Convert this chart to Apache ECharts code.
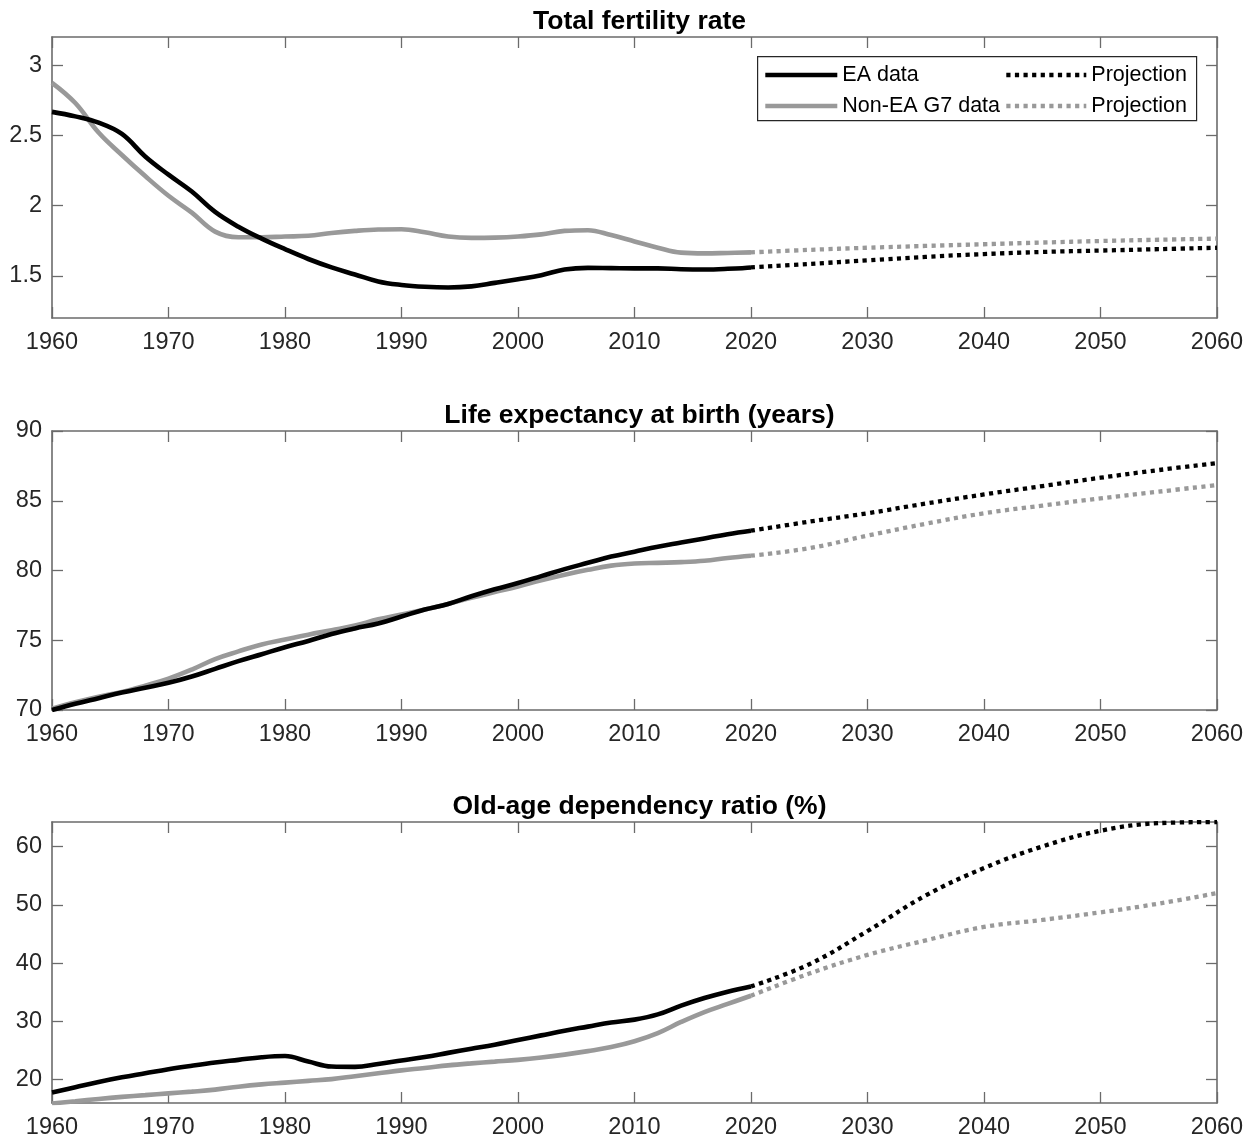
<!DOCTYPE html>
<html>
<head>
<meta charset="utf-8">
<script src="https://cdn.jsdelivr.net/npm/echarts@6/dist/echarts.min.js"></script>
<style>
  html, body { margin: 0; padding: 0; background: #fff; }
  #chart { width: 1256px; height: 1141px; }
</style>
</head>
<body>
<div id="chart"></div>
<script>
// Observed years (every two years) and projection years (every five years)
const histYears = [1960, 1962, 1964, 1966, 1968, 1970, 1972, 1974, 1976, 1978,
                   1980, 1982, 1984, 1986, 1988, 1990, 1992, 1994, 1996, 1998,
                   2000, 2002, 2004, 2006, 2008, 2010, 2012, 2014, 2016, 2018, 2020];
const projYears = [2020, 2025, 2030, 2035, 2040, 2045, 2050, 2055, 2060];

// Total fertility rate
const tfrEA = [2.667, 2.635, 2.59, 2.51, 2.35, 2.22, 2.10, 1.955, 1.85, 1.765,
               1.69, 1.62, 1.56, 1.51, 1.46, 1.435, 1.422, 1.417, 1.425, 1.45,
               1.476, 1.505, 1.545, 1.557, 1.555, 1.553, 1.553, 1.547, 1.545, 1.55, 1.56];
const tfrG7 = [2.874, 2.73, 2.52, 2.36, 2.21, 2.07, 1.95, 1.815, 1.775, 1.775,
               1.78, 1.785, 1.805, 1.82, 1.83, 1.832, 1.81, 1.78, 1.77, 1.772,
               1.78, 1.795, 1.82, 1.825, 1.79, 1.745, 1.70, 1.665, 1.66, 1.663, 1.667];
const tfrEAProj = [1.56, 1.585, 1.61, 1.635, 1.655, 1.67, 1.68, 1.69, 1.70];
const tfrG7Proj = [1.667, 1.685, 1.70, 1.713, 1.725, 1.737, 1.748, 1.757, 1.765];

// Life expectancy at birth (years)
const leEA = [70.0, 70.45, 70.85, 71.25, 71.6, 71.95, 72.4, 72.95, 73.5, 74.0,
              74.5, 74.95, 75.45, 75.85, 76.2, 76.7, 77.2, 77.6, 78.15, 78.65,
              79.1, 79.6, 80.1, 80.55, 81.0, 81.35, 81.7, 82.0, 82.3, 82.6, 82.85];
const leG7 = [70.1, 70.55, 70.95, 71.3, 71.75, 72.25, 72.9, 73.65, 74.2, 74.7,
              75.05, 75.4, 75.72, 76.05, 76.5, 76.85, 77.2, 77.6, 78.05, 78.45,
              78.85, 79.3, 79.7, 80.05, 80.35, 80.5, 80.55, 80.6, 80.7, 80.9, 81.06];
const leEAProj = [82.85, 83.5, 84.1, 84.8, 85.45, 86.05, 86.65, 87.2, 87.7];
const leG7Proj = [81.06, 81.6, 82.5, 83.35, 84.1, 84.65, 85.17, 85.65, 86.13];

// Old-age dependency ratio (%)
const oadEA = [17.8, 18.7, 19.6, 20.4, 21.1, 21.8, 22.4, 22.95, 23.4, 23.85,
               24.05, 23.1, 22.25, 22.2, 22.7, 23.3, 23.9, 24.6, 25.3, 26.0,
               26.8, 27.6, 28.4, 29.1, 29.8, 30.3, 31.2, 32.7, 34.0, 35.1, 36.0];
const oadG7 = [15.9, 16.3, 16.7, 17.05, 17.35, 17.65, 17.95, 18.3, 18.8, 19.2,
               19.5, 19.8, 20.1, 20.6, 21.1, 21.6, 22.0, 22.45, 22.8, 23.1,
               23.4, 23.8, 24.3, 24.9, 25.6, 26.6, 28.0, 29.9, 31.6, 33.0, 34.4];
const oadEAProj = [36.0, 39.8, 45.5, 51.6, 56.3, 60.0, 62.7, 64.0, 64.2];
const oadG7Proj = [34.4, 38.2, 41.4, 43.9, 46.2, 47.4, 48.7, 50.2, 52.0];

// Panel titles and y-axis tick values
const panelTitles = ['Total fertility rate', 'Life expectancy at birth (years)', 'Old-age dependency ratio (%)'];
const tfrTicks = [1.5, 2, 2.5, 3];
const leTicks = [70, 75, 80, 85, 90];
const oadTicks = [20, 30, 40, 50, 60];
const xTicks = [1960, 1970, 1980, 1990, 2000, 2010, 2020, 2030, 2040, 2050, 2060];

const seriesNames = ['EA data', 'Non-EA G7 data', 'EA projection', 'Non-EA G7 projection'];

const FONT = "'Liberation Sans', Arial, Helvetica, sans-serif";
const TEXT = '#262626';
const FRAME = '#6b6b6b';
const BLACK = '#000000';
const GREY = '#999999';

const pair = (xs, ys) => xs.map((x, i) => [x, ys[i]]);

const panels = [
  { top: 37, height: 281, yMin: 1.2, yMax: 3.2, ticks: tfrTicks,
    ea: tfrEA, g7: tfrG7, eaP: tfrEAProj, g7P: tfrG7Proj },
  { top: 431, height: 279, yMin: 70, yMax: 90, ticks: leTicks,
    ea: leEA, g7: leG7, eaP: leEAProj, g7P: leG7Proj },
  { top: 822, height: 281, yMin: 16, yMax: 64.2, ticks: oadTicks,
    ea: oadEA, g7: oadG7, eaP: oadEAProj, g7P: oadG7Proj }
];

const grid = [], xAxis = [], yAxis = [], series = [], title = [];

panels.forEach((p, i) => {
  grid.push({ left: 52, right: 39, top: p.top, height: p.height, containLabel: false });

  title.push({
    text: panelTitles[i],
    left: 634.5, top: p.top - 34, textAlign: 'center',
    textStyle: { fontFamily: FONT, fontWeight: 'bold', fontSize: 26.5, color: '#000' }
  });

  const tickCommon = { show: true, inside: true, length: 11, lineStyle: { color: FRAME, width: 1.3 } };
  const lineCommon = { show: true, onZero: false, lineStyle: { color: FRAME, width: 1.6 } };

  // bottom x axis with labels
  xAxis.push({
    type: 'value', gridIndex: i, position: 'bottom', min: 1960, max: 2060, interval: 10,
    axisLine: lineCommon, axisTick: tickCommon, splitLine: { show: false },
    axisLabel: { show: true, margin: 13, fontFamily: FONT, fontSize: 23.5, color: TEXT,
                 customValues: xTicks, formatter: v => String(v) }
  });
  // top x axis: frame + mirrored ticks
  xAxis.push({
    type: 'value', gridIndex: i, position: 'top', min: 1960, max: 2060, interval: 10,
    axisLine: lineCommon, axisTick: tickCommon, splitLine: { show: false },
    axisLabel: { show: false }
  });
  // left y axis with labels
  yAxis.push({
    type: 'value', gridIndex: i, position: 'left', min: p.yMin, max: p.yMax,
    axisLine: lineCommon,
    axisTick: Object.assign({}, tickCommon, { customValues: p.ticks }),
    splitLine: { show: false },
    axisLabel: { show: true, margin: 10, fontFamily: FONT, fontSize: 23.5, color: TEXT,
                 customValues: p.ticks, formatter: v => String(v) }
  });
  // right y axis: frame + mirrored ticks
  yAxis.push({
    type: 'value', gridIndex: i, position: 'right', min: p.yMin, max: p.yMax,
    axisLine: lineCommon,
    axisTick: Object.assign({}, tickCommon, { customValues: p.ticks }),
    splitLine: { show: false },
    axisLabel: { show: false }
  });

  const xi = i * 2, yi = i * 2;
  const solid = (name, color, data) => ({
    name, type: 'line', xAxisIndex: xi, yAxisIndex: yi, data, smooth: 0.4,
    symbol: 'none', color, lineStyle: { color, width: 4.6, type: 'solid' },
    emphasis: { disabled: true }, z: 3
  });
  const dotted = (name, color, data) => ({
    name, type: 'line', xAxisIndex: xi, yAxisIndex: yi, data, smooth: 0.4,
    symbol: 'none', color, lineStyle: { color, width: 4.3, type: [4.2, 4.4], cap: 'butt' },
    emphasis: { disabled: true }, z: 3
  });

  series.push(solid(seriesNames[1], GREY, pair(histYears, p.g7)));
  series.push(solid(seriesNames[0], BLACK, pair(histYears, p.ea)));
  series.push(dotted(seriesNames[3], GREY, pair(projYears, p.g7P)));
  series.push(dotted(seriesNames[2], BLACK, pair(projYears, p.eaP)));
});

const legendText = { fontFamily: FONT, fontSize: 21.5, color: '#000' };
const legendCommon = {
  orient: 'vertical', top: 64, itemHeight: 20, itemGap: 9,
  textStyle: legendText, selectedMode: false, padding: 0, z: 5,
  itemStyle: { opacity: 0 },
  lineStyle: { width: 4.6 }
};

const option = {
  animation: false,
  backgroundColor: '#ffffff',
  title,
  grid,
  xAxis,
  yAxis,
  series,
  legend: [
    Object.assign({}, legendCommon, {
      data: [seriesNames[0], seriesNames[1]],
      left: 763, itemWidth: 72
    }),
    Object.assign({}, legendCommon, {
      data: [seriesNames[2], seriesNames[3]],
      left: 1004, itemWidth: 80,
      formatter: () => 'Projection'
    })
  ],
  graphic: [
    {
      type: 'rect', left: 757, top: 56, z: 2,
      shape: { width: 439, height: 64 },
      style: { fill: '#ffffff', stroke: '#262626', lineWidth: 1.2 }
    }
  ]
};

const chart = echarts.init(document.getElementById('chart'), null, { renderer: 'canvas' });
chart.setOption(option);
</script>
</body>
</html>
